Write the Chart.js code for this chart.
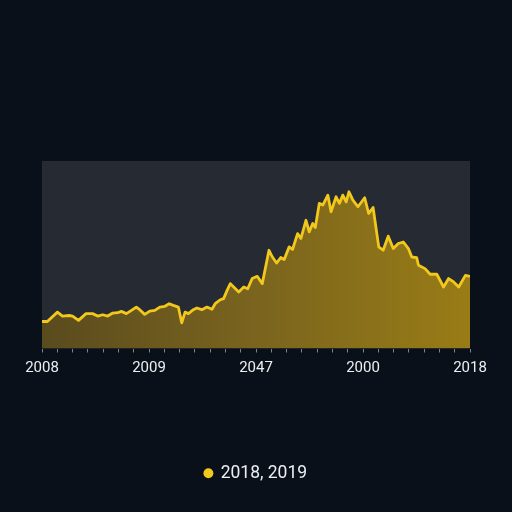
<!DOCTYPE html>
<html>
<head>
<meta charset="utf-8">
<script src="https://cdn.jsdelivr.net/npm/chart.js@4/dist/chart.umd.min.js"></script>
<style>
  html, body { margin: 0; padding: 0; background: #0a1019; }
  #wrap { width: 512px; height: 512px; }
</style>
</head>
<body>
<div id="wrap"><canvas id="c" width="512" height="512"></canvas></div>
<script>
// Tick labels shown at tick indices 0, 7, 14, 21, 28 (29 tick marks in total)
const tickLabels = ['2008', '2009', '2047', '2000', '2018'];
const tickCount = 29;
const seriesName = '2018, 2019';

// Series positions along the x axis (tick units) and values (0–100 scale)
const xPositions = [
  0, 0.35, 1.01, 1.34, 1.78, 2.0, 2.39, 2.88, 3.31, 3.64, 3.97, 4.3, 4.63, 4.96, 5.19, 5.52,
  5.85, 6.17, 6.39, 6.72, 7.05, 7.38, 7.71, 8.04, 8.32, 8.59, 8.92, 9.14, 9.36, 9.58, 9.9,
  10.13, 10.46, 10.79, 11.12, 11.33, 11.66, 11.88, 12.11, 12.32, 12.54, 12.87, 13.2, 13.46,
  13.75, 14.08, 14.41, 14.85, 15.07, 15.35, 15.62, 15.84, 16.17, 16.39, 16.72, 16.94, 17.27,
  17.48, 17.71, 17.88, 18.14, 18.37, 18.7, 18.91, 19.24, 19.46, 19.68, 19.9, 20.08, 20.34,
  20.67, 21.11, 21.37, 21.66, 22.03, 22.32, 22.65, 22.98, 23.31, 23.64, 23.97, 24.19, 24.51,
  24.63, 25.06, 25.39, 25.83, 26.27, 26.6, 26.93, 27.26, 27.7, 28
];
const values = [
  14.4, 14.4, 19.4, 17.3, 17.6, 17.3, 15.0, 18.6, 18.6, 17.3, 18.0, 17.3, 18.9, 19.1, 19.8, 18.6,
  20.3, 22.1, 20.7, 18.2, 19.9, 20.3, 22.1, 22.5, 23.9, 23.0, 22.1, 13.7, 19.4, 18.6, 20.7,
  21.6, 20.7, 22.1, 20.9, 23.9, 26.0, 26.6, 31.0, 34.6, 32.8, 30.1, 32.8, 31.9,
  37.3, 38.5, 34.6, 52.4, 48.8, 45.6, 48.5, 47.4, 54.2, 52.8, 61.3, 58.7, 68.4,
  62.2, 66.7, 64.5, 77.4, 76.5, 81.8, 72.9, 80.9, 77.4, 81.8, 78.2, 83.6, 79.1,
  75.6, 80.4, 72.0, 75.2, 54.2, 52.4, 59.9, 53.3, 56.0, 56.8, 53.3, 48.8, 48.5,
  44.4, 42.6, 39.6, 39.6, 32.8, 37.3, 35.5, 32.8, 39.0, 38.5
];

const lineColor = '#f2c81c';
const points = xPositions.map((x, i) => ({ x: x, y: values[i] }));

const plotBg = {
  id: 'plotBg',
  beforeDraw(chart) {
    const { ctx, chartArea: a } = chart;
    ctx.save();
    ctx.fillStyle = '#262b33';
    ctx.fillRect(a.left, a.top, a.right - a.left, a.bottom - a.top);
    ctx.restore();
  }
};

new Chart(document.getElementById('c'), {
  type: 'line',
  data: {
    datasets: [{
      label: seriesName,
      data: points,
      borderColor: lineColor,
      borderWidth: 2.8,
      borderJoinStyle: 'round',
      pointRadius: 0,
      tension: 0,
      fill: 'start',
      pointStyle: 'circle',
      backgroundColor: (ctx) => {
        const chart = ctx.chart;
        const a = chart.chartArea;
        if (!a) return 'rgba(0,0,0,0)';
        const g = chart.ctx.createLinearGradient(a.left, 0, a.right, 0);
        g.addColorStop(0, '#5a4b1e');
        g.addColorStop(0.5, '#7a641e');
        g.addColorStop(1, '#997c16');
        return g;
      }
    }]
  },
  options: {
    responsive: false,
    animation: false,
    devicePixelRatio: 1,
    layout: { padding: { top: 161, left: 42, right: 42, bottom: 20 } },
    scales: {
      x: {
        type: 'linear',
        min: 0,
        max: tickCount - 1,
        border: { display: false },
        grid: {
          drawOnChartArea: false,
          drawTicks: true,
          tickLength: 4,
          color: '#7d828c',
          lineWidth: 1
        },
        ticks: {
          stepSize: 1,
          autoSkip: false,
          maxRotation: 0,
          padding: 7,
          color: '#eceef2',
          font: { family: 'Roboto, "Liberation Sans", sans-serif', size: 15 },
          callback: (v) => (v % 7 === 0 ? tickLabels[v / 7] : '')
        },
        afterFit: (scale) => { scale.height = 106; }
      },
      y: {
        display: false,
        min: 0,
        max: 100
      }
    },
    plugins: {
      legend: {
        position: 'bottom',
        labels: {
          usePointStyle: true,
          pointStyle: 'circle',
          boxWidth: 7,
          boxHeight: 7,
          padding: 10,
          color: '#eceef2',
          font: { family: 'Roboto, "Liberation Sans", sans-serif', size: 17.5 },
          generateLabels: (chart) => {
            const items = Chart.defaults.plugins.legend.labels.generateLabels(chart);
            items.forEach((it) => { it.fillStyle = lineColor; it.strokeStyle = lineColor; it.lineWidth = 0; });
            return items;
          }
        }
      },
      tooltip: { enabled: false }
    }
  },
  plugins: [plotBg]
});
</script>
</body>
</html>
